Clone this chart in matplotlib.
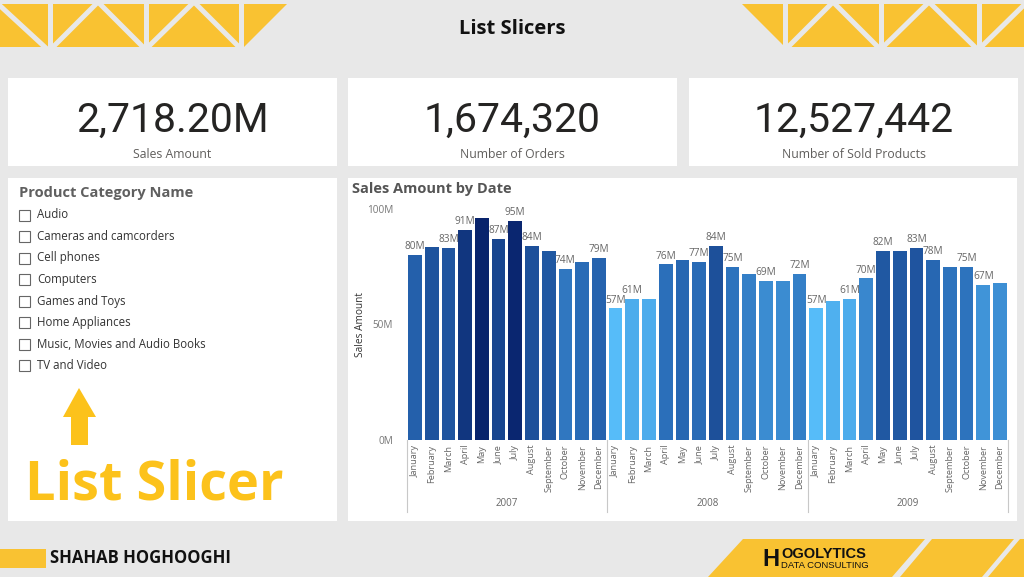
import numpy as np
import matplotlib
matplotlib.use('Agg')
import matplotlib.pyplot as plt
from matplotlib.patches import Rectangle, Polygon
from matplotlib.colors import LinearSegmentedColormap

plt.rcParams['font.family'] = ['Open Sans', 'DejaVu Sans']

# report data
kpi_values = ['2,718.20M', '1,674,320', '12,527,442']
kpi_names = ['Sales Amount', 'Number of Orders', 'Number of Sold Products']
categories = ['Audio', 'Cameras and camcorders', 'Cell phones', 'Computers',
              'Games and Toys', 'Home Appliances', 'Music, Movies and Audio Books',
              'TV and Video']
years = ['2007', '2008', '2009']
months = ['January', 'February', 'March', 'April', 'May', 'June', 'July',
          'August', 'September', 'October', 'November', 'December']
# sales amount in millions
sales_2007 = [80, 83.5, 83, 91, 96, 87, 95, 84, 82, 74, 77, 79]
sales_2008 = [57, 61, 61, 76, 78, 77, 84, 75, 72, 69, 69, 72]
sales_2009 = [57, 60, 61, 70, 82, 82, 83, 78, 75, 75, 67, 68]
# bars that show a data label in the report
labelled_2007 = ['January', 'March', 'April', 'June', 'July', 'August', 'October', 'December']
labelled_2008 = ['January', 'February', 'April', 'June', 'July', 'August', 'October', 'December']
labelled_2009 = ['January', 'March', 'April', 'May', 'July', 'August', 'October', 'November']

BG = '#E8E8E8'
YEL = '#F9C232'
W, H = 1024, 577

fig = plt.figure(figsize=(W / 100, H / 100), dpi=100)
fig.patch.set_facecolor(BG)

# page layer in pixel coordinates
bg = fig.add_axes([0, 0, 1, 1])
bg.set_xlim(0, W)
bg.set_ylim(H, 0)
bg.axis('off')

# header truss, left
bg.add_patch(Polygon([(0, 4), (287, 4), (244, 47), (0, 47)], fc=YEL, ec='none'))
left_lines = [((-3, 3), (47, 49)), ((49.5, 2), (49.5, 49)), ((51, 49), (98, 2)),
              ((98, 2), (145, 49)), ((145.5, 2), (145.5, 49)), ((146, 49), (194, 2)),
              ((194, 2), (241, 49)), ((241, 2), (241, 49))]
for (x0, y0), (x1, y1) in left_lines:
    bg.plot([x0, x1], [y0, y1], color=BG, lw=3.6, solid_capstyle='butt')

# header truss, right
bg.add_patch(Polygon([(742, 4), (1024, 4), (1024, 47), (785, 47)], fc=YEL, ec='none'))
right_lines = [((785, 2), (785, 49)), ((786, 49), (833, 2)), ((833, 2), (880, 49)),
               ((880.5, 2), (880.5, 49)), ((881, 49), (929, 2)), ((929, 2), (977, 49)),
               ((978.5, 2), (978.5, 49)), ((979, 49), (1027, 2))]
for (x0, y0), (x1, y1) in right_lines:
    bg.plot([x0, x1], [y0, y1], color=BG, lw=3.6, solid_capstyle='butt')

bg.text(512, 29, 'List Slicers', ha='center', va='center', fontsize=14.5,
        fontweight='bold', color='#111111')

# KPI cards
card_x = [8, 348, 689]
for cx, val, name in zip(card_x, kpi_values, kpi_names):
    bg.add_patch(Rectangle((cx, 78), 329, 88, fc='white', ec='none'))
    bg.text(cx + 164.5, 120, val, ha='center', va='center', fontsize=29.5,
            color='#252423', family=['Roboto', 'DejaVu Sans'])
    bg.text(cx + 164.5, 154, name, ha='center', va='center', fontsize=8.8,
            color='#605E5C')

# slicer panel
bg.add_patch(Rectangle((8, 178), 329, 343, fc='white', ec='none'))
bg.text(19, 193, 'Product Category Name', ha='left', va='center', fontsize=10.5,
        fontweight='bold', color='#5F5F5F')
for i, cat in enumerate(categories):
    yy = 215 + i * 21.5
    bg.add_patch(Rectangle((19, yy - 5.5), 11, 11, fc='white', ec='#666666', lw=0.8))
    bg.text(37, yy, cat, ha='left', va='center', fontsize=8.3, color='#333333')

bg.add_patch(Polygon([(79, 388), (96, 417), (88, 417), (88, 445), (71, 445),
                      (71, 417), (63, 417)], fc='#FCC21B', ec='none'))
bg.text(25, 486, 'List Slicer', ha='left', va='center', fontsize=39,
        fontweight='bold', color='#FCC21B')

# chart panel
bg.add_patch(Rectangle((348, 178), 669, 343, fc='white', ec='none'))
bg.text(352, 189, 'Sales Amount by Date', ha='left', va='center', fontsize=10.5,
        fontweight='bold', color='#555555')

# footer
bg.add_patch(Rectangle((0, 549), 46, 19, fc=YEL, ec='none'))
bg.text(50, 558, 'SHAHAB HOGHOOGHI', ha='left', va='center', fontsize=12,
        fontweight='bold', color='#111111')
bg.add_patch(Polygon([(743, 539), (925, 539), (892, 577), (708, 577)], fc=YEL, ec='none'))
bg.add_patch(Polygon([(932, 539), (1014, 539), (982, 577), (900, 577)], fc=YEL, ec='none'))
bg.add_patch(Polygon([(1020, 539), (1024, 539), (1024, 577), (988, 577)], fc=YEL, ec='none'))
bg.text(762, 560, 'H', ha='left', va='center', fontsize=17, fontweight='bold',
        color='#111111', family=['Liberation Sans', 'DejaVu Sans'])
bg.text(781, 554, 'OGOLYTICS', ha='left', va='center', fontsize=10.5, fontweight='bold',
        color='#111111', family=['Liberation Sans', 'DejaVu Sans'])
bg.text(781, 565.5, 'DATA CONSULTING', ha='left', va='center', fontsize=6.8,
        color='#111111', family=['Liberation Sans', 'DejaVu Sans'])

# bar chart
values = np.array(sales_2007 + sales_2008 + sales_2009)
labels = months * 3
shown = [m in labelled_2007 for m in months] + [m in labelled_2008 for m in months] + \
        [m in labelled_2009 for m in months]
x = np.arange(len(values))

cmap = LinearSegmentedColormap.from_list('blues', ['#56BCF9', '#2A6DB8', '#08236C'])
t = (values - values.min()) / (values.max() - values.min())

ax = fig.add_axes([406.6 / W, (H - 440) / H, 601.8 / W, 231 / H])
ax.set_facecolor('white')
ax.bar(x, values, width=0.82, color=cmap(t))
for xi, v, s in zip(x, values, shown):
    if s:
        ax.annotate(f'{v:.0f}M', (xi, v), xytext=(0, 2), textcoords='offset points',
                    ha='center', va='bottom', fontsize=7.3, color='#666666')
ax.set_xlim(-0.5, len(values) - 0.5)
ax.set_ylim(0, 100)
ax.set_yticks([0, 50, 100], ['0M', '50M', '100M'])
ax.set_xticks(x, labels, rotation=90)
ax.tick_params(axis='y', length=0, pad=9.5, labelsize=7.2, labelcolor='#777777')
ax.tick_params(axis='x', length=0, pad=3.5, labelsize=6.6, labelcolor='#666666')
for sp in ax.spines.values():
    sp.set_visible(False)
ax.set_ylabel('Sales Amount', fontsize=7.3, color='#333333')
ax.yaxis.set_label_coords(-0.068, 0.5)

trans = ax.get_xaxis_transform()
for b in [-0.5, 11.5, 23.5, 35.5]:
    ax.plot([b, b], [0, -0.312], color='#C8C8C8', lw=0.8, transform=trans, clip_on=False)
for i, yr in enumerate(years):
    ax.text(i * 12 + 5.5, -0.273, yr, ha='center', va='center', fontsize=7,
            color='#666666', transform=trans)

fig.savefig('out.png', dpi=100, facecolor=BG)
